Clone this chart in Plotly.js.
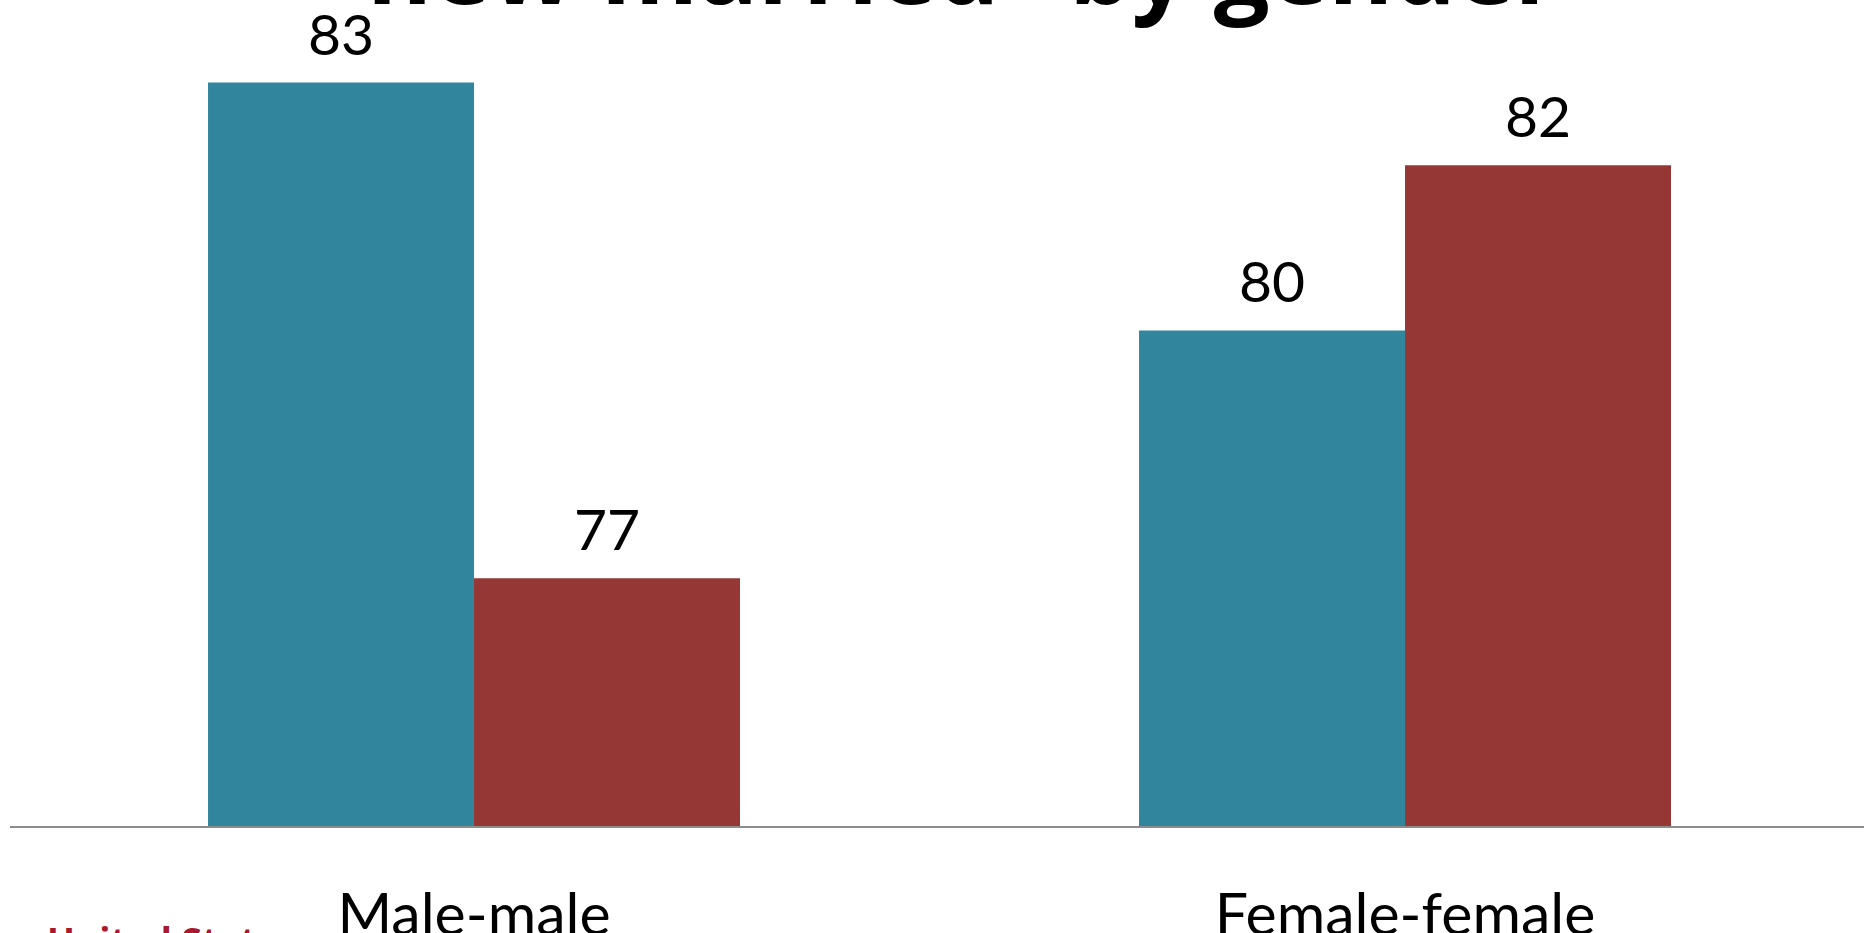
<!DOCTYPE html>
<html>
<head>
<meta charset="utf-8">
<script src="https://cdn.plot.ly/plotly-3.0.1.min.js"></script>
<style>
  html, body { margin: 0; padding: 0; background: #ffffff; }
  #chart { width: 1864px; height: 933px; }
</style>
</head>
<body>
<div id="chart"></div>
<script>
// ---- data ----
const categories = ['Male-male', 'Female-female'];
const seriesNames = ['Series 1', 'Series 2'];
const series1 = [83, 80];
const series2 = [77, 82];
const titleText = '“new married” by gender';
const logoText = 'United States';

// ---- style ----
const colors = ['#31859C', '#953735'];
const font = 'Lato, "Open Sans", "Noto Sans", sans-serif';
const titleFont = '"Open Sans", "Noto Sans", sans-serif';
const bargap = 0.4286;
const barWidth = (1 - bargap) / 2;

const allSeries = [series1, series2];
const traces = allSeries.map((vals, i) => ({
  type: 'bar',
  name: seriesNames[i],
  x: categories,
  y: vals,
  marker: { color: colors[i], line: { width: 0 } },
  hoverinfo: 'x+y'
}));

// value labels above bars, positioned from the data
const annotations = [];
allSeries.forEach((vals, i) => {
  vals.forEach((v, j) => {
    annotations.push({
      xref: 'x', yref: 'y',
      x: j + (i === 0 ? -1 : 1) * barWidth / 2,
      y: v,
      text: String(v),
      showarrow: false,
      xanchor: 'center', yanchor: 'bottom',
      yshift: 14,
      font: { family: font, size: 57, color: '#000000' }
    });
  });
});

// cut-off title (top of slide)
annotations.push({
  xref: 'paper', yref: 'paper',
  x: 0.168, y: 1,
  xanchor: 'left', yanchor: 'bottom',
  yshift: -35,
  text: '<b>' + titleText + '</b>',
  showarrow: false,
  font: { family: titleFont, size: 99, color: '#000000', weight: 700 }
});

// cut-off logo text (bottom-left)
annotations.push({
  xref: 'paper', yref: 'paper',
  x: 0.019, y: 0,
  xanchor: 'left', yanchor: 'top',
  yshift: -87,
  text: '<b>' + logoText + '</b>',
  showarrow: false,
  font: { family: titleFont, size: 37, color: '#a6192e', weight: 700 }
});

const layout = {
  width: 1864,
  height: 933,
  margin: { l: 10, r: 0, t: 0, b: 107, pad: 0 },
  paper_bgcolor: '#ffffff',
  plot_bgcolor: '#ffffff',
  showlegend: false,
  barmode: 'group',
  bargap: bargap,
  bargroupgap: 0,
  xaxis: {
    type: 'category',
    range: [-0.4984, 1.493],
    showline: true,
    linecolor: '#8c8c8c',
    linewidth: 2,
    ticks: '',
    showgrid: false,
    zeroline: false,
    ticklabelstandoff: 36,
    tickfont: { family: font, size: 59, color: '#000000' },
    fixedrange: true
  },
  yaxis: {
    range: [74, 84],
    showline: false,
    showgrid: false,
    zeroline: false,
    showticklabels: false,
    ticks: '',
    fixedrange: true
  },
  annotations: annotations
};

Plotly.newPlot('chart', traces, layout, { displayModeBar: false, responsive: false });
</script>
</body>
</html>
